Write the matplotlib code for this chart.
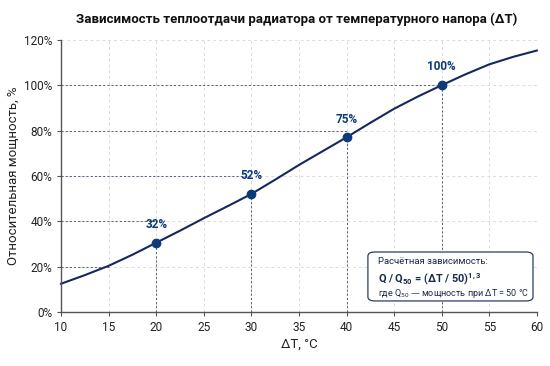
import numpy as np
import matplotlib.pyplot as plt
from matplotlib.patches import FancyBboxPatch

plt.rcParams['font.family'] = ['Roboto', 'DejaVu Sans']
plt.rcParams['mathtext.default'] = 'regular'

# curve
dt = [10, 12.5, 15, 17.5, 20, 22.5, 25, 27.5, 30, 32.5, 35, 37.5, 40,
      42.5, 45, 47.5, 50, 52.5, 55, 57.5, 60]
q = [12.4, 16.2, 20.3, 25.2, 30.5, 35.8, 41.3, 46.6, 52, 58.3, 64.8, 70.9, 77,
     83.4, 89.6, 95, 100, 104.8, 109.2, 112.5, 115.3]

pt_x = [20, 30, 40, 50]
pt_y = [30.5, 52, 77, 100]
pt_labels = ['32%', '52%', '75%', '100%']

# horizontal guides: level and where they stop
guide_y = [20, 40, 60, 80, 100]
guide_end = [15, 20, 30, 40, 50]

navy = '#15285e'
dot = '#0d3b7a'
guide = '#5a6585'

fig = plt.figure(figsize=(5.5, 3.66), dpi=100)
ax = fig.add_axes([0.111, 0.148, 0.865, 0.743])

ax.set_xlim(10, 60)
ax.set_ylim(0, 120)
ax.set_xticks(range(10, 61, 5))
ax.set_yticks(range(0, 121, 20))
ax.set_yticklabels([f'{v}%' for v in range(0, 121, 20)])
ax.grid(True, color='#d8dbe2', linestyle=(0, (3, 3)), linewidth=0.7)
ax.set_axisbelow(True)

for s in ['top', 'right']:
  ax.spines[s].set_visible(False)
for s in ['left', 'bottom']:
  ax.spines[s].set_color('#555555')
  ax.spines[s].set_linewidth(1.0)
ax.tick_params(labelsize=8.5, colors='#222222', length=3, color='#555555')

for y, xe in zip(guide_y, guide_end):
  ax.plot([10, xe], [y, y], color=guide, linestyle=(0, (2, 2)), linewidth=0.75)
for x, y in zip(pt_x, pt_y):
  ax.plot([x, x], [0, y], color=guide, linestyle=(0, (2, 2)), linewidth=0.75)

ax.plot(dt, q, color=navy, linewidth=1.5, clip_on=False)
ax.scatter(pt_x, pt_y, s=36, color=dot, zorder=5)
for x, y, lab in zip(pt_x, pt_y, pt_labels):
  ax.annotate(lab, (x, y), xytext=(0, 8.5), textcoords='offset points',
              ha='center', va='bottom', fontsize=8.5, fontweight='bold', color=dot)

ax.set_xlabel('ΔT, °C', fontsize=9.5, color='#222222', labelpad=3)
ax.set_ylabel('Относительная мощность, %', fontsize=9.5, color='#222222', labelpad=3)
fig.suptitle('Зависимость теплоотдачи радиатора от температурного напора (ΔT)',
             x=0.54, y=0.965, fontsize=9.5, fontweight='bold', color='#111111')

box = FancyBboxPatch((0.645, 0.04), 0.347, 0.18, transform=ax.transAxes,
                     boxstyle='round,pad=0,rounding_size=0.015',
                     facecolor='white', edgecolor='#2b3d66', linewidth=0.9, zorder=4)
ax.add_patch(box)
ax.text(0.666, 0.184, 'Расчётная зависимость:', transform=ax.transAxes,
        fontsize=6.8, color='#1b2a4a', va='center', zorder=6)
ax.text(0.666, 0.122, 'Q / Q$_{50}$ = (ΔT / 50)$^{1,3}$', transform=ax.transAxes,
        fontsize=7.8, color='#1b2a4a', va='center', fontweight='bold', zorder=6)
ax.text(0.666, 0.068, 'где Q$_{50}$ — мощность при ΔT = 50 °C', transform=ax.transAxes,
        fontsize=6.5, color='#1b2a4a', va='center', zorder=6)

fig.savefig('out.png', dpi=100)
